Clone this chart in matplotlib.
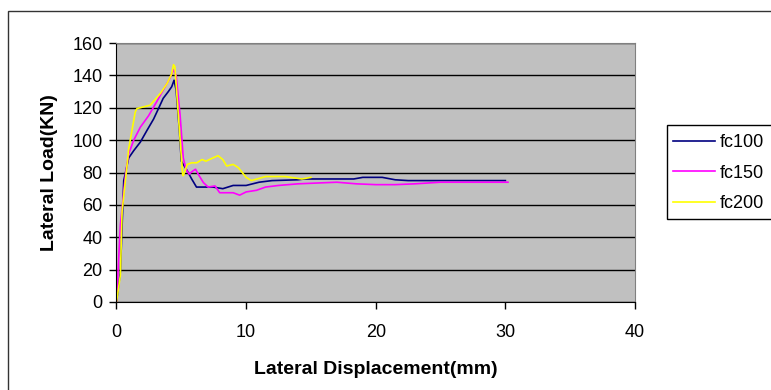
import matplotlib.pyplot as plt
from matplotlib.patches import Rectangle

plt.rcParams['font.family'] = ['Liberation Sans', 'DejaVu Sans']

# displacement (mm) / lateral load (kN)
fc100_x = [0, 0.3, 0.56, 0.94, 1.33, 1.84, 2.35, 2.86, 3.24, 3.6, 4.0, 4.26, 4.44,
           4.6, 4.85, 5.0, 5.46, 5.8, 6.17, 7.45, 8.2, 9.0, 10.0, 11.0, 12.0, 14.0,
           14.5, 18.3, 19.0, 20.5, 21.5, 22.5, 30.0]
fc100_y = [0, 18.7, 75, 89, 93.5, 98.8, 106, 113, 119.5, 125.8, 130, 133, 137,
           131, 106, 87, 81, 76, 71, 71, 70, 72, 72, 74, 75, 75.5,
           76, 76, 77, 77, 75.5, 75, 75]

fc150_x = [0, 0.3, 0.7, 0.94, 1.33, 1.84, 2.47, 3.1, 3.75, 4.1, 4.4, 4.6, 4.9,
           5.15, 5.36, 5.6, 5.9, 6.1, 6.3, 6.7, 7.07, 7.6, 7.96, 9.0, 9.5, 10.0,
           10.8, 11.5, 12.5, 14.0, 17.0, 18.5, 20.0, 21.5, 23.0, 25.0, 30.2]
fc150_y = [0, 47.8, 79, 91.5, 100, 108, 115, 123.7, 133, 138, 143.5, 140, 116,
           89, 82, 79, 81, 82, 79, 73.8, 71, 71.7, 67.5, 67.5, 66, 68,
           69, 71, 72, 73, 74, 73, 72.5, 72.5, 73, 74, 74]

fc200_x = [0, 0.3, 0.43, 0.82, 0.94, 1.45, 1.58, 2.6, 3.4, 3.9, 4.26, 4.4, 4.5,
           5.1, 5.15, 5.46, 5.8, 6.2, 6.6, 6.9, 7.3, 7.83, 8.2, 8.5, 9.0, 9.4,
           10.0, 10.4, 11.5, 13.0, 14.3, 15.0]
fc200_y = [0, 16.6, 56, 85, 94.6, 117.5, 119.5, 121.6, 129, 135, 141, 146.6, 145.5,
           79, 78, 85, 86, 86, 88, 87, 88.5, 90.4, 88, 84, 85, 83,
           77, 75, 77.5, 77.5, 76, 77]

fig = plt.figure(figsize=(7.71, 3.9), dpi=100)
# chart border, runs off the right and bottom edges
fig.patches.append(Rectangle((8, -10), 800, 390 - 11 + 10, transform=None,
                             fill=False, edgecolor='#333333', linewidth=1))
# legend box, also cut off at the right
fig.patches.append(Rectangle((667, 390 - 219), 200, 94, transform=None,
                             facecolor='white', edgecolor='black', linewidth=1,
                             zorder=1))

ax = fig.add_axes([116.5 / 771, 88 / 390, (635 - 116.5) / 771, (302 - 43) / 390])
ax.set_facecolor('#C0C0C0')

ax.plot(fc100_x, fc100_y, color='#000080', linewidth=1.2, label='fc100')
ax.plot(fc150_x, fc150_y, color='#FF00FF', linewidth=1.2, label='fc150')
ax.plot(fc200_x, fc200_y, color='#FFFF00', linewidth=1.2, label='fc200')

ax.set_xlim(0, 40)
ax.set_ylim(0, 160)
ax.set_xticks(range(0, 41, 10))
ax.set_yticks(range(0, 161, 20))
ax.yaxis.grid(True, color='black', linewidth=1)
ax.set_axisbelow(True)
ax.tick_params(direction='out', length=5, width=1, labelsize=13, colors='black', pad=5)
ax.tick_params(axis='x', pad=11)
for s in ['top', 'right']:
    ax.spines[s].set_color('#808080')
for s in ['left', 'bottom']:
    ax.spines[s].set_color('black')

ax.set_xlabel('Lateral Displacement(mm)', fontsize=14, fontweight='bold', labelpad=14)
ax.set_ylabel('Lateral Load(KN)', fontsize=14, fontweight='bold', labelpad=10)

handles, labels = ax.get_legend_handles_labels()
leg = fig.legend(handles, labels, loc='upper left',
                 bbox_to_anchor=(673 / 771, (390 - 134) / 390),
                 fontsize=13, frameon=False, borderaxespad=0, borderpad=0,
                 handlelength=2.3, handletextpad=0.3, labelspacing=0.75)
leg.set_zorder(5)

fig.savefig('out.png', dpi=100)
